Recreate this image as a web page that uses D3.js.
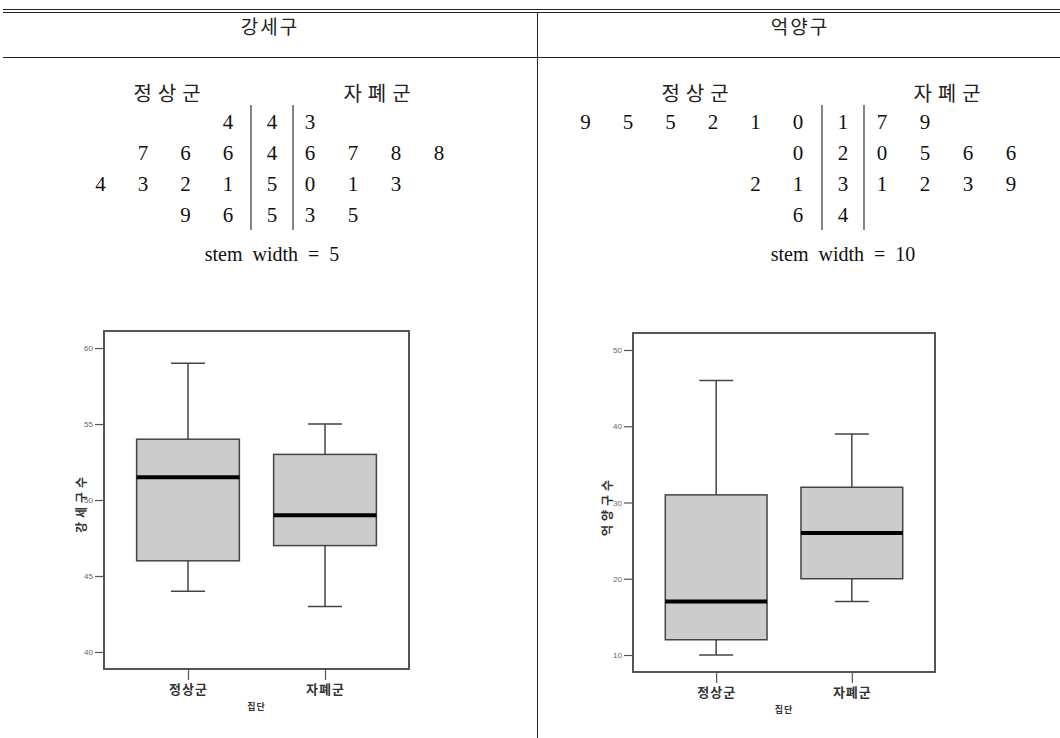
<!DOCTYPE html>
<html>
<head>
<meta charset="utf-8">
<script src="https://cdn.jsdelivr.net/npm/d3@7"></script>
<style>
  body { margin: 0; background: #fff; }
  text { white-space: pre; }
</style>
</head>
<body>
<div id="chart"></div>
<script>
// 패널 제목
const regions = ["강세구", "억양구"];
const groups = ["정상군", "자폐군"];

// 줄기-잎 그림 (강세구: 줄기폭 5, 억양구: 줄기폭 10)
const stemsGS = [4, 4, 5, 5];
const leavesGS_normal = [[4], [6, 6, 7], [1, 2, 3, 4], [6, 9]];
const leavesGS_autism = [[3], [6, 7, 8, 8], [0, 1, 3], [3, 5]];
const stemsEY = [1, 2, 3, 4];
const leavesEY_normal = [[0, 1, 2, 5, 5, 9], [0], [1, 2], [6]];
const leavesEY_autism = [[7, 9], [0, 5, 6, 6], [1, 2, 3, 9], []];
const stemWidths = [5, 10];

// 상자그림 (최소, Q1, 중앙값, Q3, 최대)
const boxGS = [[44, 46, 51.5, 54, 59], [43, 47, 49, 53, 55]];
const boxEY = [[10, 12, 17, 31, 46], [17, 20, 26, 32, 39]];
const ticksGS = [40, 45, 50, 55, 60];
const ticksEY = [10, 20, 30, 40, 50];
const yTitles = ["강세구수", "억양구수"];
const xTitle = "집단";

const W = 1060, H = 738;
const DIV_X = 537;
const svg = d3.select("#chart").append("svg")
  .attr("width", W).attr("height", H);

const serif = "'Liberation Serif', 'DejaVu Serif', serif";
const kor = "'Noto Sans CJK KR', sans-serif";

// 표 테두리
svg.append("line").attr("x1", 3).attr("x2", W).attr("y1", 9.5).attr("y2", 9.5)
  .attr("stroke", "#222").attr("stroke-width", 1.2);
svg.append("line").attr("x1", 3).attr("x2", W).attr("y1", 12.5).attr("y2", 12.5)
  .attr("stroke", "#222").attr("stroke-width", 1.2);
svg.append("line").attr("x1", 3).attr("x2", W).attr("y1", 57.5).attr("y2", 57.5)
  .attr("stroke", "#222").attr("stroke-width", 1);
svg.append("line").attr("x1", DIV_X + 0.5).attr("x2", DIV_X + 0.5).attr("y1", 12).attr("y2", H)
  .attr("stroke", "#222").attr("stroke-width", 1);

svg.selectAll(".hdr").data(regions).enter().append("text")
  .attr("x", (d, i) => (i === 0 ? 269 : 799) + 1)
  .attr("y", 34)
  .attr("text-anchor", "middle")
  .attr("letter-spacing", 2)
  .attr("font-family", kor).attr("font-size", 19).attr("fill", "#222")
  .text(d => d);

// 줄기-잎 그림
function stemLeaf(cfg) {
  const g = svg.append("g");
  const rowY = d3.scalePoint().domain(d3.range(cfg.stems.length)).range([122, 215]);
  const colL = d3.scaleLinear().domain([0, 1]).range([cfg.leftX, cfg.leftX - 42.5]);
  const colR = d3.scaleLinear().domain([0, 1]).range([cfg.rightX, cfg.rightX + 43]);

  [[cfg.titleL, groups[0]], [cfg.titleR, groups[1]]].forEach(([tx, t]) => {
    g.append("text").attr("x", tx + 3).attr("y", 92).attr("text-anchor", "middle")
      .attr("dominant-baseline", "central").attr("letter-spacing", 6)
      .attr("font-family", kor).attr("font-size", 20).attr("fill", "#222").text(t);
  });

  [cfg.line1, cfg.line2].forEach(x => {
    g.append("line").attr("x1", x).attr("x2", x).attr("y1", 105).attr("y2", 230)
      .attr("stroke", "#444").attr("stroke-width", 1.3);
  });

  const digit = (x, y, t) => g.append("text").attr("x", x).attr("y", y)
    .attr("text-anchor", "middle").attr("dominant-baseline", "central")
    .attr("font-family", serif).attr("font-size", 21).attr("fill", "#111").text(t);

  cfg.stems.forEach((s, r) => {
    const y = rowY(r);
    digit(cfg.stemX, y, s);
    cfg.left[r].forEach((v, i) => digit(colL(i), y, v));
    cfg.right[r].forEach((v, i) => digit(colR(i), y, v));
  });

  g.append("text").attr("x", cfg.stemX).attr("y", 254).attr("text-anchor", "middle")
    .attr("dominant-baseline", "central")
    .attr("font-family", serif).attr("font-size", 20).attr("fill", "#111")
    .text("stem  width  =  " + cfg.width);
}

stemLeaf({ stems: stemsGS, left: leavesGS_normal, right: leavesGS_autism, width: stemWidths[0],
  stemX: 272, line1: 251, line2: 293, leftX: 228, rightX: 310, titleL: 167, titleR: 377 });
stemLeaf({ stems: stemsEY, left: leavesEY_normal, right: leavesEY_autism, width: stemWidths[1],
  stemX: 843, line1: 822, line2: 864, leftX: 798, rightX: 882, titleL: 695, titleR: 947 });

// 상자그림
function boxPlot(cfg) {
  const g = svg.append("g");
  const x = d3.scalePoint().domain(groups).range([cfg.x0, cfg.x1]).padding(0.613);
  const y = d3.scaleLinear().domain(cfg.domain).range([cfg.y1, cfg.y0]);
  const bw = x.step() * 0.75;

  g.append("rect").attr("x", cfg.x0).attr("y", cfg.y0)
    .attr("width", cfg.x1 - cfg.x0).attr("height", cfg.y1 - cfg.y0)
    .attr("fill", "none").attr("stroke", "#555").attr("stroke-width", 2);

  const yAxis = d3.axisLeft(y).tickValues(cfg.ticks).tickSize(8).tickPadding(2);
  const ya = g.append("g").attr("transform", `translate(${cfg.x0 - 1},0)`).call(yAxis);
  ya.select(".domain").remove();
  ya.selectAll(".tick line").attr("stroke", "#555").attr("stroke-width", 1.2);
  ya.selectAll(".tick text").attr("font-family", "'Liberation Sans', Arial, sans-serif")
    .attr("font-size", 8).attr("fill", "#666");

  const xAxis = d3.axisBottom(x).tickSize(10).tickPadding(5);
  const xa = g.append("g").attr("transform", `translate(0,${cfg.y1 + 1})`).call(xAxis);
  xa.select(".domain").remove();
  xa.selectAll(".tick line").attr("stroke", "#555").attr("stroke-width", 1.2);
  xa.selectAll(".tick text").attr("font-family", kor).attr("font-weight", "bold")
    .attr("font-size", 13).attr("letter-spacing", 1).attr("fill", "#333");

  g.append("text").attr("x", (cfg.x0 + cfg.x1) / 2).attr("y", cfg.y1 + 41)
    .attr("text-anchor", "middle").attr("font-family", kor).attr("font-weight", "bold")
    .attr("font-size", 9).attr("letter-spacing", 1).attr("fill", "#333").text(xTitle);

  g.append("text").attr("transform", `translate(${cfg.titleX},${cfg.titleY}) rotate(-90)`)
    .attr("text-anchor", "middle").attr("dominant-baseline", "central")
    .attr("letter-spacing", 4)
    .attr("font-family", kor).attr("font-weight", "bold")
    .attr("font-size", 12).attr("fill", "#333").text(cfg.title);

  const boxes = g.selectAll(".box").data(cfg.stats).enter().append("g");
  boxes.each(function (d, i) {
    const b = d3.select(this);
    const cx = x(groups[i]);
    const cap = 34;
    b.append("line").attr("x1", cx).attr("x2", cx).attr("y1", y(d[4])).attr("y2", y(d[3]))
      .attr("stroke", "#444").attr("stroke-width", 1.5);
    b.append("line").attr("x1", cx).attr("x2", cx).attr("y1", y(d[1])).attr("y2", y(d[0]))
      .attr("stroke", "#444").attr("stroke-width", 1.5);
    b.append("line").attr("x1", cx - cap / 2).attr("x2", cx + cap / 2).attr("y1", y(d[4])).attr("y2", y(d[4]))
      .attr("stroke", "#444").attr("stroke-width", 1.5);
    b.append("line").attr("x1", cx - cap / 2).attr("x2", cx + cap / 2).attr("y1", y(d[0])).attr("y2", y(d[0]))
      .attr("stroke", "#444").attr("stroke-width", 1.5);
    b.append("rect").attr("x", cx - bw / 2).attr("y", y(d[3]))
      .attr("width", bw).attr("height", y(d[1]) - y(d[3]))
      .attr("fill", "#cccccc").attr("stroke", "#444").attr("stroke-width", 1.5);
    b.append("line").attr("x1", cx - bw / 2).attr("x2", cx + bw / 2).attr("y1", y(d[2])).attr("y2", y(d[2]))
      .attr("stroke", "#000").attr("stroke-width", 4);
  });
}

boxPlot({ stats: boxGS, ticks: ticksGS, domain: [38.88, 61.12], title: yTitles[0],
  x0: 104, x1: 409, y0: 331, y1: 669, titleX: 80, titleY: 503 });
boxPlot({ stats: boxEY, ticks: ticksEY, domain: [7.77, 52.23], title: yTitles[1],
  x0: 633, x1: 935, y0: 333, y1: 672, titleX: 606, titleY: 506 });
</script>
</body>
</html>
